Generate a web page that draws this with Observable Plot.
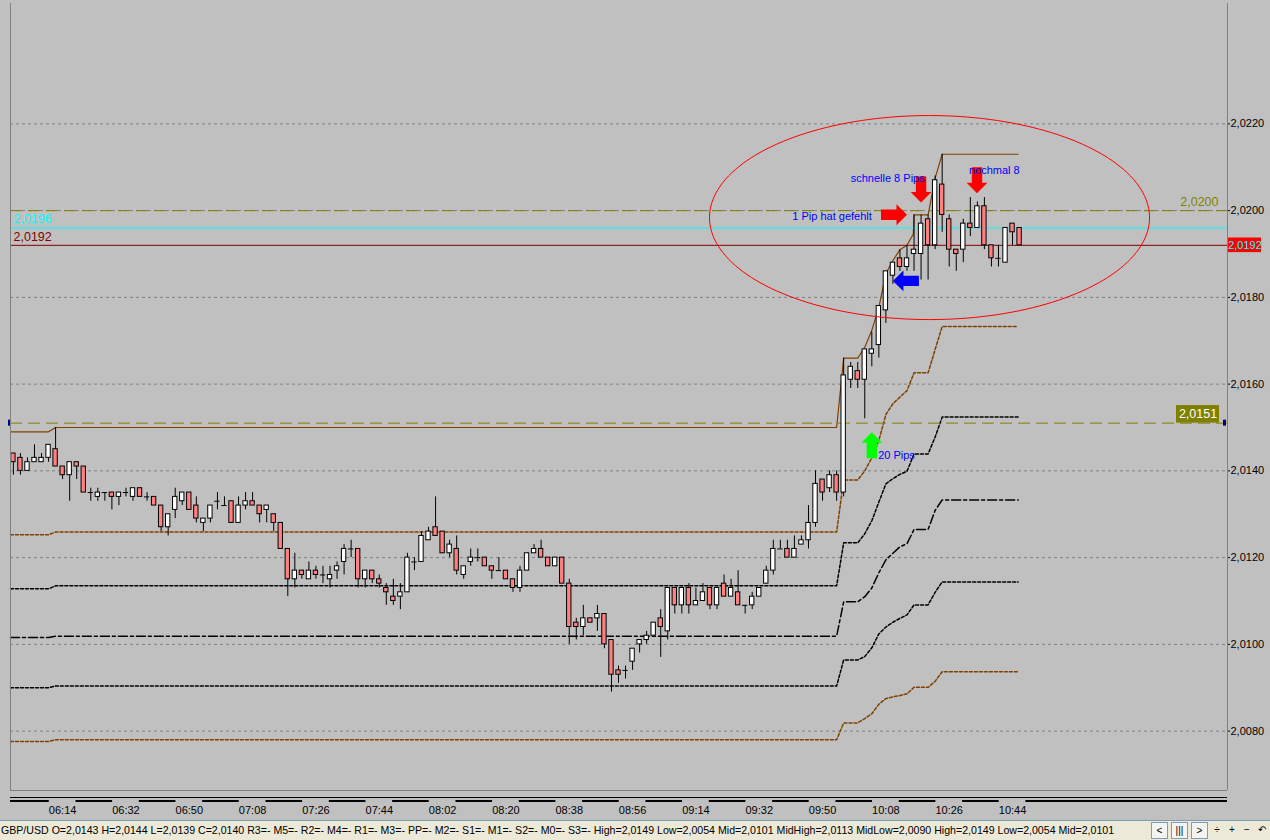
<!DOCTYPE html>
<html>
<head>
<meta charset="utf-8">
<script src="https://cdn.jsdelivr.net/npm/d3@7"></script>
<script src="https://cdn.jsdelivr.net/npm/@observablehq/plot@0.6"></script>
<style>
  html, body { margin:0; padding:0; background:#c0c0c0; }
  body { width:1270px; height:840px; overflow:hidden; position:relative; font-family:"Liberation Sans", Arial, sans-serif; }
  #chart svg { display:block; }
  #status { position:absolute; left:0; top:820px; width:1270px; height:20px; background:#ece9d8; border-top:1px solid #7f9db9; box-sizing:border-box; font-size:10.6px; line-height:18px; white-space:nowrap; color:#000; }
  #status .txt { position:absolute; left:1px; top:0; letter-spacing:0; }
  #status .btns { position:absolute; right:2px; top:1px; display:flex; gap:3px; }
  #status .b { height:15px; min-width:13px; border:1px solid #7f9db9; background:#f4f4f0; font-size:10px; line-height:15px; text-align:center; padding:0 1px; }
  #status .p { border:none; background:none; min-width:10px; }
</style>
</head>
<body>
<div id="chart"></div>
<div id="status"><span class="txt" id="stxt"></span>
  <div class="btns"><span class="b">&lt;</span><span class="b">|||</span><span class="b">&gt;</span><span class="b p">&divide;</span><span class="b p">+</span><span class="b p">&minus;</span><span class="b p">&#8630;</span></div>
</div>
<script>
// ---- GBP/USD 2-minute candles, 06:00 - 10:46, values in pips above 2,0000 ----
const open  = [144,143,140,142,142,143,145,141,139,142, 141,135,134,135,135,134,135,134,136,134,
               134,132,127,131,133,135,132,128,129,133, 132,133,128,132,133,132,131,130,128,122,
               115,117,115,117,116,115,117,119,122,122, 115,117,115,113,111,111,112,119,119,124,
               127,126,121,122,116,119,120,120,118,117, 117,115,113,117,121,122,120,118,120,114,
               105,104,106,106,107,101,94,94,96,100,    101,102,106,103,113,109,113,109,110,113,
               109,114,111,112,109,109,111,114,117,122, 122,120,123,124,128,138,136,139,135,161,
               163,161,167,169,177,185,189,187,190,190, 198,192,206,198,191,191,197,196,201,192,
               189,188,197,196];
const high  = [144,144,143,146,144,146,150,141,142,142, 141,136,136,135,135,135,136,136,136,135,
               134,132,130,136,135,135,134,129,132,135, 134,133,134,135,135,132,132,130,128,122,
               121,117,119,118,118,118,119,123,124,122, 117,117,116,114,115,114,121,120,126,127,
               134,126,124,125,118,122,122,120,118,120, 117,115,118,121,123,124,120,120,120,115,
               106,109,106,109,107,101,95,95,99,101,    103,105,108,113,113,113,114,113,114,113,
               113,116,115,117,109,112,113,118,124,124, 124,125,125,132,140,138,140,140,166,165,
               165,168,172,178,186,188,191,192,199,199, 199,208,213,199,191,198,203,202,203,192,
               192,196,197,196];
const low   = [139,139,140,142,142,142,141,138,133,138, 135,133,133,133,131,132,134,133,134,133,
               132,126,125,129,132,131,128,126,128,131, 132,128,128,131,132,128,128,126,122,111,
               113,115,115,115,114,113,115,116,120,113, 113,114,113,109,109,108,112,117,119,124,
               125,121,120,116,115,118,119,118,115,117, 115,112,112,117,121,120,118,118,114,100,
               101,102,105,103,99,89,91,92,94,98,       100,102,97,101,107,107,107,109,110,108,
               108,111,111,109,107,108,111,114,116,122, 120,120,123,122,127,133,135,133,134,159,
               159,152,164,166,174,183,186,186,186,184, 184,191,195,187,186,188,194,196,191,187,
               187,188,192,192];
const close = [142,140,142,143,143,146,141,139,142,141, 135,135,135,135,134,135,135,136,134,134,
               132,127,130,134,135,131,129,129,132,133, 132,128,132,133,132,130,132,128,122,115,
               117,116,117,116,116,116,118,122,122,115, 117,115,114,112,110,112,120,119,125,126,
               125,121,123,117,118,120,120,118,117,117, 115,113,117,121,122,120,118,120,114,104,
               104,106,105,107,100,93,93,94,99,101,     102,105,104,113,109,113,109,110,112,109,
               113,111,113,109,109,111,113,117,122,122, 120,122,124,128,137,135,139,135,162,164,
               161,168,168,178,186,188,187,189,191,197, 192,207,199,191,190,197,196,201,192,189,
               189,196,195,192];

// time axis labels (candle index of each label)
const tickLabels = ["06:14","06:32","06:50","07:08","07:26","07:44","08:02","08:20",
                    "08:38","08:56","09:14","09:32","09:50","10:08","10:26","10:44"];
const tickIndex  = [7,16,25,34,43,52,61,70,79,88,97,106,115,124,133,142];
const priceTicks = [80,100,120,140,160,180,200,220];   // pips above 2,0000

// indicator levels, [candle index, pips]
const levelHigh   = [[-0.41,149],[5,149],[6,150],[117,150],[118,166],[120,166],[121,168.5],[122,172.4],[123,177.7],[124,185.5],[125,188.5],[126,191],[127,192],[127.9,194.6],[128,199],[130,199],[131,207.5],[132,213],[142.8,213]];
const levelQ3     = [[-0.41,125.3],[5,125.3],[6,125.9],[117,125.9],[118,137.9],[120,137.9],[121,140],[122,143],[123,147],[124,153],[125,155.5],[126,157],[127,158.5],[128,162.6],[130,162.6],[131,168],[132,173.3],[142.8,173.3]];
const levelMidHi  = [[-0.41,112.8],[5,112.8],[6,113.5],[117,113.5],[118,123.4],[120,123.4],[121,125.5],[122,128.5],[123,132.8],[124,137],[125,138.2],[126,139.2],[127,139.9],[128,143.9],[130,143.9],[131,147.8],[132,152.4],[142.8,152.4]];
const levelMid    = [[-0.41,101.6],[5,101.6],[6,101.9],[117,101.9],[118,109.8],[120,109.8],[121,111],[122,113],[123,116.5],[124,119.5],[125,121],[126,122.5],[127,123.2],[128,126.5],[130,126.5],[131,130.9],[132,133.3],[142.8,133.3]];
const levelMidLo  = [[-0.41,90.0],[5,90.0],[6,90.4],[117,90.4],[118,96.4],[120,96.4],[121,97.2],[122,99.2],[123,102.4],[124,104],[125,105.1],[126,106],[127,106.8],[128,109.1],[130,109.1],[131,112],[132,114.4],[142.8,114.4]];
const levelQ1     = [[-0.41,77.6],[5,77.6],[6,78],[117,78],[118,81.9],[120,81.9],[121,82.9],[122,84],[123,86.2],[124,87.5],[125,87.9],[126,88.2],[127,88.6],[128,90.1],[130,90.1],[131,91.5],[132,93.7],[142.8,93.7]];

// horizontal price lines (pips)
const oliveLines = [200, 151];
const cyanLine = 196;
const lastPrice = 192;

// annotations: candle index, pips
const notes = [
  {i:119.0, p:207.3, text:"schnelle 8 Pips"},
  {i:135.8, p:209.2, text:"nochmal 8"},
  {i:110.7, p:198.6, text:"1 Pip hat gefehlt"},
  {i:122.9, p:143.5, text:"20 Pips"}
];
const arrows = [
  {id:"a1", i:129.0, p:201.9, dir:"down",  color:"#ff0000"},
  {id:"a2", i:136.95,p:204.0, dir:"down",  color:"#ff0000"},
  {id:"a3", i:127.0, p:199.05,dir:"right", color:"#ff0000"},
  {id:"a4", i:125.0, p:183.8, dir:"left",  color:"#0000ff"},
  {id:"a5", i:122.0, p:148.9, dir:"up",    color:"#00ff00"}
];
const ring = {i:130.2, p:198.4, ri:31.27, rp:23.52};

// ---------------------------------------------------------------
const px = v => 2 + v / 10000;
const fmt = v => v.toFixed(4).replace(".", ",");
const W = 1270, H = 820, mL = 10, mR = 43, mT = 3, mB = 30;
const xDomain = [-0.41, 172.55];
const yDomainP = [66.31, 247.75];
const pxPerIdx = (W - mL - mR) / (xDomain[1] - xDomain[0]);
const pxPerPip = (H - mT - mB) / (yDomainP[1] - yDomainP[0]);
const idxAt = x => xDomain[0] + (x - mL) / pxPerIdx;   // for margin decorations
const pipAt = y => yDomainP[1] - (y - mT) / pxPerPip;

const candles = open.map((o, i) => ({i, o: px(o), h: px(high[i]), l: px(low[i]), c: px(close[i])}));
const up = candles.filter(d => d.c > d.o);
const down = candles.filter(d => d.c < d.o);
const doji = candles.filter(d => d.c === d.o);
const hw = 0.31;

const lvl = arr => arr.map(([i, p]) => ({i, y: px(p)}));

const shape = [[0,0],[10.5,10.4],[10.5,5.2],[26,5.2],[26,-5.2],[10.5,-5.2],[10.5,-10.4],[0,0]];
const arrowPts = arrows.flatMap(a => shape.map(([b, c]) => {
  let dx, dy;
  if (a.dir === "down") { dx = c; dy = -b; }
  else if (a.dir === "up") { dx = c; dy = b; }
  else if (a.dir === "right") { dx = -b; dy = c; }
  else { dx = b; dy = c; }
  return {id: a.id, color: a.color, x: a.i + dx / pxPerIdx, y: px(a.p - dy / pxPerPip)};
}));
const ringPts = d3.range(0, 361, 2).map(t => ({x: ring.i + ring.ri * Math.cos(t * Math.PI / 180), y: px(ring.p + ring.rp * Math.sin(t * Math.PI / 180))}));

// segmented time-scale bar: gaps under each label
const barSegs = [xDomain[0], ...tickIndex.flatMap(t => [t - 1.9, t + 1.9]), xDomain[1]];
const bars = d3.range(0, barSegs.length, 2).map(k => ({x1: barSegs[k], x2: barSegs[k + 1]}));

const brown = "#804000";
const font = "Liberation Sans, Arial, sans-serif";

const chart = Plot.plot({
  width: W, height: H,
  marginLeft: mL, marginRight: mR, marginTop: mT, marginBottom: mB,
  style: {background: "#c0c0c0", fontFamily: font, fontSize: "11px", color: "#000", overflow: "visible"},
  x: {domain: xDomain},
  y: {domain: [px(yDomainP[0]), px(yDomainP[1])]},
  marks: [
    // grid
    Plot.ruleY(priceTicks.map(px), {stroke: "#808080", strokeDasharray: "3,3", strokeWidth: 1}),
    // indicator levels
    Plot.line(lvl(levelQ1), {x: "i", y: "y", stroke: brown, strokeDasharray: "3,2", curve: "linear"}),
    Plot.line(lvl(levelMidLo), {x: "i", y: "y", stroke: "#000", strokeDasharray: "3,2"}),
    Plot.line(lvl(levelMid), {x: "i", y: "y", stroke: "#000", strokeDasharray: "9,3,3,3"}),
    Plot.line(lvl(levelMidHi), {x: "i", y: "y", stroke: "#000", strokeDasharray: "3,2"}),
    Plot.line(lvl(levelQ3), {x: "i", y: "y", stroke: brown, strokeDasharray: "3,2"}),
    Plot.line(lvl(levelHigh), {x: "i", y: "y", stroke: brown, strokeWidth: 1.2}),
    // horizontal price lines
    Plot.ruleY(oliveLines.map(px), {stroke: "#808000", strokeDasharray: "12,6", strokeWidth: 1}),
    Plot.ruleY([px(cyanLine)], {stroke: "#00ffff"}),
    Plot.ruleY([px(lastPrice)], {stroke: "#800000"}),
    // candles
    Plot.ruleX(candles, {x: "i", y1: "l", y2: "h", stroke: "#000", strokeWidth: 1}),
    Plot.rect(up, {x1: d => d.i - hw, x2: d => d.i + hw, y1: "o", y2: "c", fill: "#ffffff", stroke: "#000", strokeWidth: 1}),
    Plot.rect(down, {x1: d => d.i - hw, x2: d => d.i + hw, y1: "o", y2: "c", fill: "#ff8080", stroke: "#000", strokeWidth: 1}),
    Plot.ruleY(doji, {y: "o", x1: d => d.i - hw - 0.07, x2: d => d.i + hw + 0.07, stroke: "#000"}),
    // ellipse
    Plot.line(ringPts, {x: "x", y: "y", stroke: "#ff0000", strokeWidth: 1}),
    // arrows
    Plot.line(arrowPts, {x: "x", y: "y", z: "id", fill: "color", stroke: "none", curve: "linear"}),
    // annotations
    Plot.text(notes, {x: "i", y: d => px(d.p), text: "text", fill: "#0000ff", textAnchor: "start", fontSize: 11}),
    // price labels
    Plot.text([{t: fmt(px(cyanLine)), p: 198.0}], {x: idxAt(13), y: d => px(d.p), text: "t", fill: "#00ffff", textAnchor: "start", fontSize: 12.5}),
    Plot.text([{t: fmt(px(lastPrice)), p: 194.0}], {x: idxAt(13), y: d => px(d.p), text: "t", fill: "#800000", textAnchor: "start", fontSize: 12.5}),
    Plot.text([{t: fmt(px(oliveLines[0])), p: 201.9}], {x: idxAt(1218), y: d => px(d.p), text: "t", fill: "#808000", textAnchor: "end", fontSize: 12.5}),
    Plot.rect([oliveLines[1]], {x1: idxAt(1176), x2: idxAt(1219), y1: d => px(d), y2: d => px(d + 17.6 / pxPerPip), fill: "#808000"}),
    Plot.text([oliveLines[1]], {x: idxAt(1197.5), y: d => px(d + 8.8 / pxPerPip), text: d => fmt(px(d)), fill: "#ffffff", fontSize: 12.5}),
    Plot.rect([oliveLines[1]], {x1: idxAt(8), x2: idxAt(11), y1: d => px(d - 3 / pxPerPip), y2: d => px(d + 3 / pxPerPip), fill: "#000080"}),
    Plot.rect([oliveLines[1]], {x1: idxAt(1223), x2: idxAt(1226), y1: d => px(d - 3 / pxPerPip), y2: d => px(d + 3 / pxPerPip), fill: "#000080"}),
    Plot.rect([lastPrice], {x1: idxAt(1228), x2: idxAt(1261), y1: d => px(d - 7.3 / pxPerPip), y2: d => px(d + 7.3 / pxPerPip), fill: "#ff0000"}),
    Plot.text([lastPrice], {x: idxAt(1244.5), y: d => px(d), text: d => fmt(px(d)), fill: "#00ffff", fontSize: 11}),
    // frame lines
    Plot.ruleX([xDomain[1]], {stroke: "#808080"}),
    Plot.ruleX([xDomain[0]], {stroke: "#808080"}),
    Plot.ruleY([px(yDomainP[0])], {stroke: "#808080"}),
    // axes
    Plot.axisY({anchor: "right", ticks: priceTicks.map(px), tickFormat: fmt, tickSize: 2, tickPadding: 1, fontSize: 11, color: "#000"}),
    Plot.ruleY([px(pipAt(797))], {stroke: "#000", strokeWidth: 1}),
    Plot.ruleY(bars, {y: px(pipAt(800.5)), x1: "x1", x2: "x2", stroke: "#000", strokeWidth: 2}),
    Plot.axisX({anchor: "bottom", ticks: tickIndex, tickFormat: d => tickLabels[tickIndex.indexOf(d)], tickSize: 0, tickPadding: 16, fontSize: 11, color: "#000"})
  ]
});
document.getElementById("chart").appendChild(chart);
document.getElementById("stxt").textContent =
  "GBP/USD O=2,0143 H=2,0144 L=2,0139 C=2,0140  R3=-  M5=-  R2=-  M4=-  R1=-  M3=-  PP=-  M2=-  S1=-  M1=-  S2=-  M0=-  S3=-  High=2,0149 Low=2,0054 Mid=2,0101 MidHigh=2,0113 MidLow=2,0090 High=2,0149 Low=2,0054 Mid=2,0101";
</script>
</body>
</html>
